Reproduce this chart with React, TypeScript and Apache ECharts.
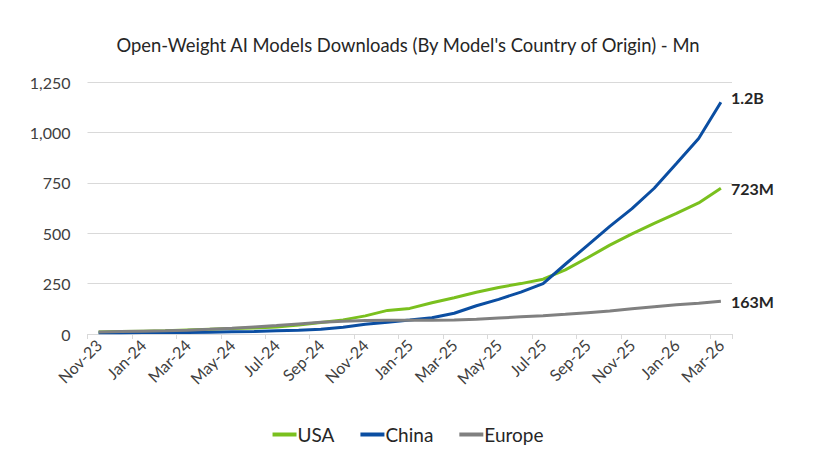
import React, { useEffect, useRef } from "react";
import * as echarts from "echarts";

const months = [
  "Nov-23", "Dec-23", "Jan-24", "Feb-24", "Mar-24", "Apr-24", "May-24", "Jun-24", "Jul-24", "Aug-24",
  "Sep-24", "Oct-24", "Nov-24", "Dec-24", "Jan-25", "Feb-25", "Mar-25", "Apr-25", "May-25", "Jun-25",
  "Jul-25", "Aug-25", "Sep-25", "Oct-25", "Nov-25", "Dec-25", "Jan-26", "Feb-26", "Mar-26",
];

const usa = [10, 12, 14, 16, 20, 24, 27, 30, 35, 45, 57, 70, 90, 117, 127, 155, 180, 207, 231, 250, 272, 318, 378, 441, 497, 549, 598, 650, 723];
const china = [6, 6, 7, 7, 8, 9, 11, 13, 16, 19, 24, 33, 48, 58, 69, 81, 103, 140, 172, 208, 250, 346, 440, 534, 622, 723, 846, 970, 1150];
const europe = [10, 12, 14, 16, 19, 23, 28, 35, 42, 50, 58, 63, 67, 68, 68, 68, 70, 73, 79, 85, 91, 98, 106, 114, 125, 135, 145, 152, 163];

const endUSA = "723M";
const endChina = "1.2B";
const endEurope = "163M";

const FONT = "Lato, 'Open Sans', sans-serif";

export default function App() {
  const ref = useRef<HTMLDivElement>(null);
  useEffect(() => {
    if (!ref.current) return;
    const chart = echarts.init(ref.current, undefined, { renderer: "svg" });
    const mk = (name: string, data: number[], color: string, label: string, dy: number) => ({
      name,
      type: "line",
      data,
      symbol: "none",
      lineStyle: { color, width: 3 },
      itemStyle: { color },
      endLabel: {
        show: true,
        formatter: label,
        fontFamily: FONT,
        fontSize: 16,
        fontWeight: "bold",
        color: "#262626",
        distance: 10,
        offset: [0, dy],
      },
    });
    chart.setOption({
      animation: false,
      textStyle: { fontFamily: FONT },
      title: {
        text: "Open-Weight AI Models Downloads (By Model's Country of Origin) - Mn",
        left: "center",
        top: 31,
        textStyle: { fontFamily: FONT, fontSize: 18.4, fontWeight: "normal", color: "#262626" },
      },
      legend: {
        top: 420,
        left: "center",
        itemGap: 26,
        itemWidth: 24,
        itemHeight: 4,
        icon: "rect",
        textStyle: { fontFamily: FONT, fontSize: 19, color: "#262626", padding: [0, 0, 0, -4] },
        data: ["USA", "China", "Europe"],
      },
      grid: { left: 87.5, right: 84, top: 82, bottom: 122 },
      xAxis: {
        type: "category",
        data: months,
        boundaryGap: true,
        axisLine: { lineStyle: { color: "#d9d9d9", width: 1 } },
        axisTick: { show: true, interval: 1, length: 5, lineStyle: { color: "#d9d9d9" } },
        axisLabel: {
          interval: 1,
          rotate: 45,
          margin: 8,
          fontFamily: FONT,
          fontSize: 16,
          color: "#404040",
        },
      },
      yAxis: {
        type: "value",
        min: 0,
        max: 1250,
        interval: 250,
        axisLine: { show: false },
        axisTick: { show: false },
        splitLine: { lineStyle: { color: "#d9d9d9", width: 1 } },
        axisLabel: {
          margin: 17,
          fontFamily: FONT,
          fontSize: 16,
          color: "#404040",
          formatter: (v: number) => v.toLocaleString("en-US"),
        },
      },
      series: [
        mk("USA", usa, "#7AC01E", endUSA, 0),
        mk("China", china, "#0B4EA2", endChina, -5),
        mk("Europe", europe, "#808080", endEurope, 0),
      ],
    });
    return () => chart.dispose();
  }, []);
  return (
    <div
      ref={ref}
      style={{ position: "fixed", left: 0, top: 0, width: 816, height: 456, background: "#fff" }}
    />
  );
}
